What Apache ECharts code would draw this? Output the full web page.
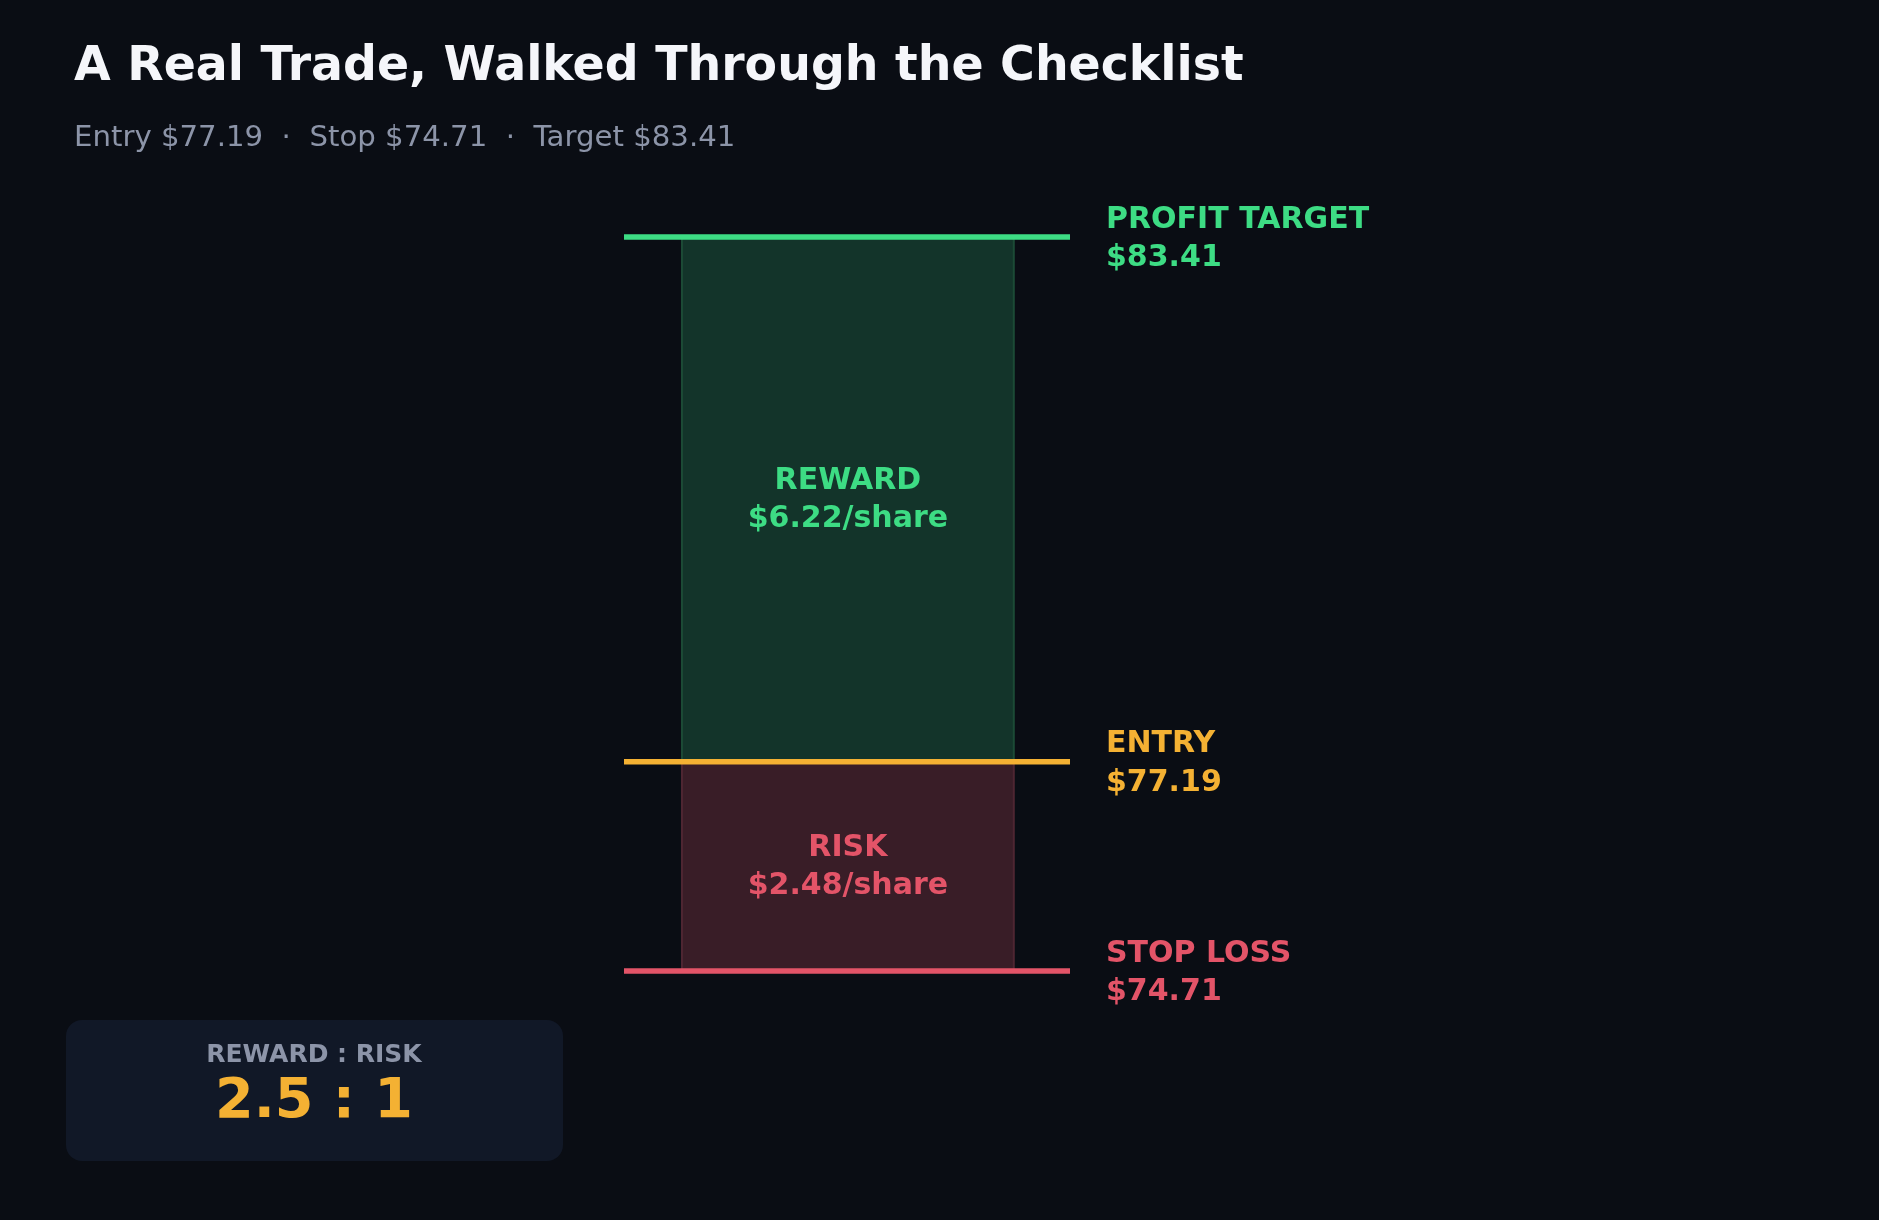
<!DOCTYPE html>
<html>
<head>
<meta charset="utf-8">
<script src="https://cdn.jsdelivr.net/npm/echarts@6/dist/echarts.min.js"></script>
<style>
html,body{margin:0;padding:0;background:#0a0d14;}
#chart{width:1879px;height:1220px;}
</style>
</head>
<body>
<div id="chart"></div>
<script>
// ---- data ----
const levelNames = ['PROFIT TARGET', 'ENTRY', 'STOP LOSS'];
const levelPrices = [83.41, 77.19, 74.71];
const zoneNames = ['REWARD', 'RISK'];
const zonePerShare = [6.22, 2.48];
const ratioTitle = 'REWARD : RISK';
const ratioValue = '2.5 : 1';
const titleText = 'A Real Trade, Walked Through the Checklist';
const subtitleText = 'Entry $77.19  \u00b7  Stop $74.71  \u00b7  Target $83.41';

// ---- style ----
const FONT = 'DejaVu Sans';
const BG = '#0a0d14';
const GREEN = '#3ddc84';
const AMBER = '#f4b133';
const RED = '#e35468';
const levelColors = [GREEN, AMBER, RED];
const zoneFill = ['#13342a', '#391d27'];
const zoneBorder = ['#1c4a36', '#4e2632'];
const zoneText = [GREEN, RED];

const chart = echarts.init(document.getElementById('chart'), null, {renderer: 'canvas'});

const lineSeries = levelNames.map((name, i) => ({
  type: 'line',
  name: name,
  z: 5,
  silent: true,
  symbol: 'none',
  animation: false,
  data: [[0, levelPrices[i]], [1, levelPrices[i]]],
  lineStyle: {color: levelColors[i], width: 5.5, cap: 'butt'},
  endLabel: {
    show: true,
    distance: 36,
    offset: [0, 2],
    formatter: () => '{a|' + name + '}\n{a|$' + levelPrices[i].toFixed(2) + '}',
    rich: {
      a: {color: levelColors[i], fontFamily: FONT, fontWeight: 'bold', fontSize: 30, lineHeight: 38.5}
    }
  }
}));

const zoneBounds = [[levelPrices[0], levelPrices[1]], [levelPrices[1], levelPrices[2]]];
const areaSeries = {
  type: 'line',
  z: 1,
  silent: true,
  symbol: 'none',
  animation: false,
  data: [],
  markArea: {
    silent: true,
    data: zoneNames.map((zn, j) => [
      {
        xAxis: 0.13,
        yAxis: zoneBounds[j][0],
        itemStyle: {color: zoneFill[j], borderColor: zoneBorder[j], borderWidth: 2},
        label: {
          show: true,
          position: 'inside',
          offset: [0, 1],
          formatter: '{a|' + zn + '}\n{a|$' + zonePerShare[j].toFixed(2) + '/share}',
          rich: {a: {color: zoneText[j], fontFamily: FONT, fontWeight: 'bold', fontSize: 30, lineHeight: 38.5, align: 'center'}}
        }
      },
      {xAxis: 0.874, yAxis: zoneBounds[j][1]}
    ])
  }
};

const option = {
  backgroundColor: BG,
  animation: false,
  title: [
    {text: titleText, left: 69, top: 39,
     textStyle: {color: '#f5f6fa', fontFamily: FONT, fontWeight: 'bold', fontSize: 47.4}},
    {text: subtitleText, left: 69, top: 119,
     textStyle: {color: '#8c94a8', fontFamily: FONT, fontWeight: 'normal', fontSize: 29.2}}
  ],
  grid: {left: 624, width: 446, top: 102.9, height: 1012.4},
  xAxis: {type: 'value', min: 0, max: 1, show: false},
  yAxis: {type: 'value', min: 73, max: 85, show: false, splitLine: {show: false}},
  series: [areaSeries].concat(lineSeries),
  graphic: [
    {type: 'rect', left: 66, top: 1020, shape: {width: 497, height: 141, r: 16},
     style: {fill: '#111827'}},
    {type: 'text', x: 314, y: 1055,
     style: {text: ratioTitle, fill: '#8c94a8', font: 'bold 25px "DejaVu Sans"', align: 'center', verticalAlign: 'middle'}},
    {type: 'text', x: 314, y: 1103,
     style: {text: ratioValue, fill: AMBER, font: 'bold 55.6px "DejaVu Sans"', align: 'center', verticalAlign: 'middle'}}
  ]
};
chart.setOption(option);
</script>
</body>
</html>
